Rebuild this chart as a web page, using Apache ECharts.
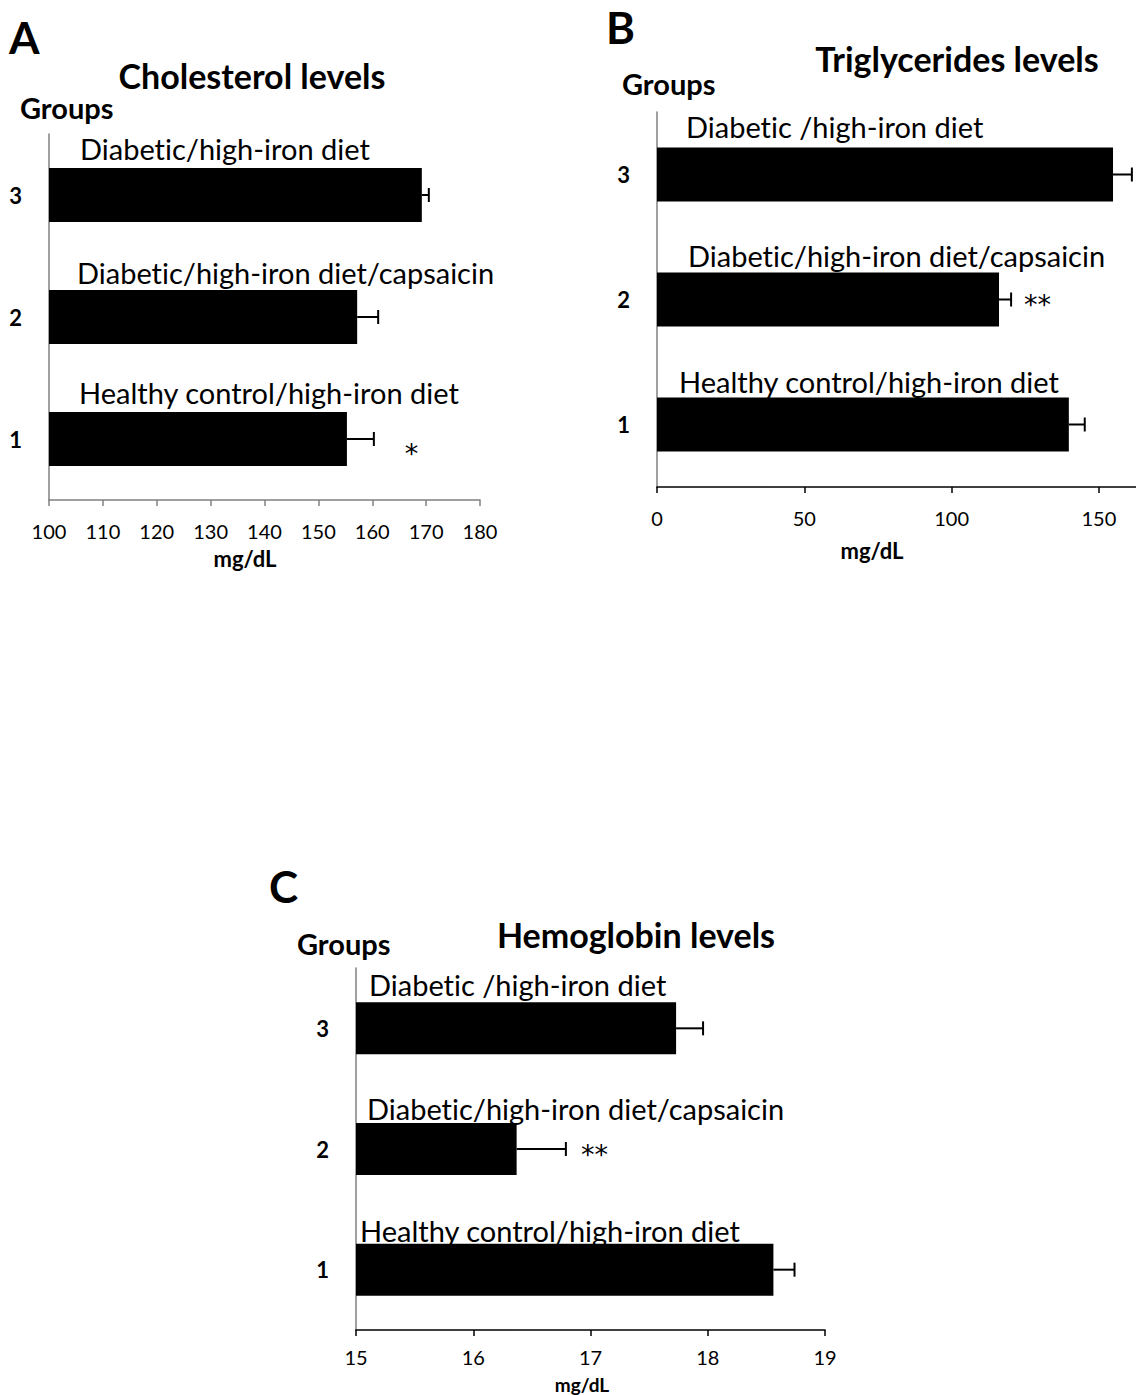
<!DOCTYPE html>
<html><head><meta charset="utf-8">
<script src="https://cdn.jsdelivr.net/npm/echarts@6/dist/echarts.min.js"></script>
<style>html,body{margin:0;padding:0;background:#fff}#c{width:1136px;height:1395px}
#c text{font-variant-ligatures:none;font-feature-settings:"liga" 0,"clig" 0}</style>
</head><body><div id="c"></div>
<script>
// ---------- DATA ----------
const categories = ['1', '2', '3'];
const namesA = ['Healthy control/high-iron diet', 'Diabetic/high-iron diet/capsaicin', 'Diabetic/high-iron diet'];
const namesBC = ['Healthy control/high-iron diet', 'Diabetic/high-iron diet/capsaicin', 'Diabetic /high-iron diet'];

const cholMean = [155.3, 157.2, 169.2];
const cholErr = [5.0, 3.9, 1.3];
const cholSig = ['*', '', ''];
const cholTicks = [100, 110, 120, 130, 140, 150, 160, 170, 180];

const trigMean = [139.8, 116.1, 154.8];
const trigErr = [5.4, 4.1, 6.4];
const trigSig = ['', '**', ''];
const trigTicks = [0, 50, 100, 150];

const hbMean = [18.56, 16.37, 17.73];
const hbErr = [0.18, 0.42, 0.23];
const hbSig = ['', '**', ''];
const hbTicks = [15, 16, 17, 18, 19];

// ---------- LAYOUT ----------
const FONT = 'Lato, "Open Sans", sans-serif';
const SIGFONT = '"DejaVu Sans", sans-serif';
const panels = [
  { grid: { left: 49, top: 134, width: 431, height: 366 }, min: 100, max: 180, ticks: cholTicks,
    mean: cholMean, err: cholErr, sig: cholSig, names: namesA, barW: 54, axisCol: '#808080', lblMargin: 21,
    labelPos: [[30, -20], [28, -18], [31, -20]], sigOff: [31, 14] },
  { grid: { left: 657, top: 112, width: 479, height: 375 }, min: 0, max: 162.6, ticks: trigTicks,
    mean: trigMean, err: trigErr, sig: trigSig, names: namesBC, barW: 54, axisCol: '#000', lblMargin: 21,
    labelPos: [[22, -16], [31, -17], [29, -21]], sigOff: [13, 5] },
  { grid: { left: 356, top: 968, width: 469, height: 362 }, min: 15, max: 19, ticks: hbTicks,
    mean: hbMean, err: hbErr, sig: hbSig, names: namesBC, barW: 52, axisCol: '#000', lblMargin: 17,
    labelPos: [[4, -13], [11, -15], [13, -18]], sigOff: [15, 5] }
];

const grids = [], xAxes = [], yAxes = [], series = [];
panels.forEach((p, i) => {
  grids.push(p.grid);
  xAxes.push({
    type: 'value', gridIndex: i, min: p.min, max: p.max,
    splitLine: { show: false },
    axisLine: { show: true, lineStyle: { color: p.axisCol, width: 1.5 } },
    axisTick: { show: true, length: 6, lineStyle: { color: p.axisCol, width: 1.5 }, customValues: p.ticks },
    axisLabel: { color: '#000', fontSize: 20, fontFamily: FONT, margin: p.lblMargin, customValues: p.ticks }
  });
  yAxes.push({
    type: 'category', gridIndex: i, data: categories,
    axisLine: { show: true, lineStyle: { color: '#808080', width: 1.5 } },
    axisTick: { show: false },
    axisLabel: { color: '#000', fontSize: 22, fontWeight: 'bold', fontFamily: FONT, margin: 27 }
  });
  series.push({
    type: 'bar', xAxisIndex: i, yAxisIndex: i, barWidth: p.barW,
    itemStyle: { color: '#000' },
    data: p.mean.map((v, k) => ({
      value: v,
      label: { show: true, position: p.labelPos[k], formatter: p.names[k],
               color: '#000', fontSize: 29, fontFamily: FONT, align: 'left', verticalAlign: 'middle' }
    }))
  });
  series.push({
    type: 'custom', xAxisIndex: i, yAxisIndex: i, z: 5,
    data: p.mean.map((v, k) => [v, k, p.err[k]]),
    renderItem: (params, api) => {
      const v = api.value(0), c = api.value(1), e = api.value(2);
      const a = api.coord([v, c]), b = api.coord([v + e, c]);
      const h = 7;
      const st = { stroke: '#000', lineWidth: 2 };
      const ch = [
        { type: 'line', shape: { x1: a[0], y1: a[1], x2: b[0], y2: b[1] }, style: st },
        { type: 'line', shape: { x1: b[0], y1: b[1] - h, x2: b[0], y2: b[1] + h }, style: st }
      ];
      const s = p.sig[params.dataIndex];
      if (s) ch.push({ type: 'text', style: { text: s, x: b[0] + p.sigOff[0], y: b[1] + p.sigOff[1],
        fill: '#000', font: '27px ' + SIGFONT, textAlign: 'left', textVerticalAlign: 'middle' } });
      return { type: 'group', children: ch };
    }
  });
});

function txt(x, y, t, size, bold, align) {
  return { type: 'text', x: x, y: y, style: { text: t, fill: '#000', font: (bold ? 'bold ' : '') + size + 'px ' + FONT,
    textAlign: align || 'left', textVerticalAlign: 'middle' } };
}

const chart = echarts.init(document.getElementById('c'), null, { renderer: 'svg' });
chart.setOption({
  backgroundColor: '#fff', animation: false,
  grid: grids, xAxis: xAxes, yAxis: yAxes, series: series,
  graphic: [
    txt(9, 37, 'A', 44, true), txt(252, 75, 'Cholesterol levels', 34, true, 'center'),
    txt(20, 107, 'Groups', 29, true), txt(245, 558, 'mg/dL', 22, true, 'center'),
    txt(606, 27, 'B', 44, true), txt(957, 58, 'Triglycerides levels', 34, true, 'center'),
    txt(622, 83, 'Groups', 29, true), txt(872, 550, 'mg/dL', 22, true, 'center'),
    txt(269, 886, 'C', 44, true), txt(636, 934, 'Hemoglobin levels', 34, true, 'center'),
    txt(297, 943, 'Groups', 29, true), txt(582, 1384, 'mg/dL', 19, true, 'center')
  ]
});
</script></body></html>
